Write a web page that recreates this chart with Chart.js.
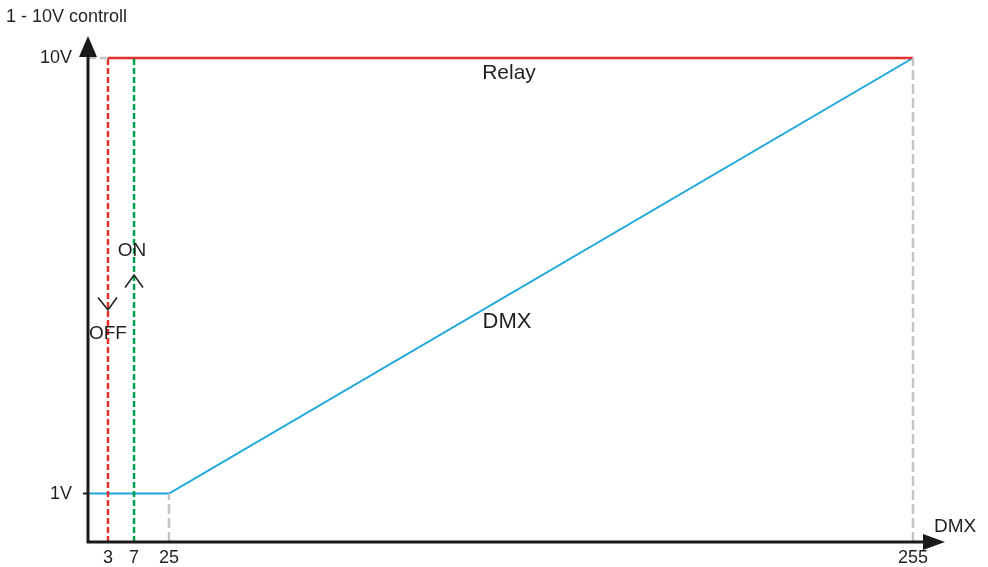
<!DOCTYPE html>
<html>
<head>
<meta charset="utf-8">
<script src="https://cdn.jsdelivr.net/npm/chart.js@4"></script>
<style>
  html, body { margin: 0; padding: 0; background: #ffffff; }
  #wrap { width: 988px; height: 567px; position: relative; }
</style>
</head>
<body>
<div id="wrap"><canvas id="c"></canvas></div>
<script>
// ---- data ----
const xTickValues = [3, 7, 25, 255];
const yTickValues = [1, 10];
const dmxX = [0, 25, 255];
const dmxY = [1, 1, 10];
const relayX = [3, 255];
const relayY = [10, 10];
const offX = 3;      // relay switches OFF below this DMX value
const onX = 7;       // relay switches ON above this DMX value
const minDimX = 25;  // DMX value where dimming starts
const maxX = 255;
const minV = 1;
const maxV = 10;

const TEXT = '#231f20';
const FONT = "'Liberation Sans', Arial, sans-serif";

// piecewise-linear axis (schematic spacing of the low DMX values)
const xBreakValues = [0, 3, 7, 25, 255];
const xBreakFractions = [0, 0.0242, 0.0558, 0.0982, 1];

class PiecewiseScale extends Chart.LinearScale {
  getPixelForValue(v) {
    if (v === null || v === undefined || isNaN(v)) return NaN;
    const bv = xBreakValues, bf = xBreakFractions;
    let f;
    if (v <= bv[0]) f = bf[0] + (v - bv[0]) * (bf[1] - bf[0]) / (bv[1] - bv[0]);
    else if (v >= bv[bv.length - 1]) {
      const n = bv.length - 1;
      f = bf[n] + (v - bv[n]) * (bf[n] - bf[n - 1]) / (bv[n] - bv[n - 1]);
    } else {
      for (let i = 0; i < bv.length - 1; i++) {
        if (v >= bv[i] && v <= bv[i + 1]) {
          f = bf[i] + (v - bv[i]) * (bf[i + 1] - bf[i]) / (bv[i + 1] - bv[i]);
          break;
        }
      }
    }
    return this.getPixelForDecimal(f);
  }
  getValueForPixel(p) {
    const f = this.getDecimalForPixel(p);
    const bv = xBreakValues, bf = xBreakFractions;
    for (let i = 0; i < bf.length - 1; i++) {
      if (f >= bf[i] && f <= bf[i + 1]) {
        return bv[i] + (f - bf[i]) * (bv[i + 1] - bv[i]) / (bf[i + 1] - bf[i]);
      }
    }
    return f < 0 ? bv[0] : bv[bv.length - 1];
  }
}
PiecewiseScale.id = 'piecewise';
PiecewiseScale.defaults = Chart.LinearScale.defaults;
Chart.register(PiecewiseScale);

const pts = (xs, ys) => xs.map((x, i) => ({ x: x, y: ys[i] }));

const datasets = [
  { label: 'ref10', data: pts([0, offX], [maxV, maxV]), borderColor: '#c4c4c4', borderWidth: 2.5, borderDash: [8, 4] },
  { label: 'OFF', data: pts([offX, offX], [0, maxV]), borderColor: '#e2302b', borderWidth: 2.5, borderDash: [6, 3] },
  { label: 'ON', data: pts([onX, onX], [0, maxV]), borderColor: '#00a04f', borderWidth: 2.5, borderDash: [6, 3] },
  { label: 'ref25', data: pts([minDimX, minDimX], [0, minV]), borderColor: '#c4c4c4', borderWidth: 2.5, borderDash: [10, 4] },
  { label: 'ref255', data: pts([maxX, maxX], [0, maxV]), borderColor: '#c4c4c4', borderWidth: 2.5, borderDash: [10, 4] },
  { label: 'Relay', data: pts(relayX, relayY), borderColor: '#e2302b', borderWidth: 2.5 },
  { label: 'DMX', data: pts(dmxX, dmxY), borderColor: '#1ba6dc', borderWidth: 2 }
].map(d => Object.assign(d, { clip: false }));

const decor = {
  id: 'decor',
  afterDatasetsDraw(chart) {
    const ctx = chart.ctx;
    const xs = chart.scales.x, ys = chart.scales.y;
    const x0 = xs.getPixelForValue(0), y0 = ys.getPixelForValue(0);
    const yTop = ys.getPixelForValue(maxV);
    ctx.save();
    // axes with arrows
    ctx.strokeStyle = '#1a1a1a';
    ctx.fillStyle = '#1a1a1a';
    ctx.lineWidth = 3;
    ctx.beginPath();
    ctx.moveTo(x0, y0);
    ctx.lineTo(x0, yTop - 16);
    ctx.moveTo(x0 - 1.5, y0);
    ctx.lineTo(xs.getPixelForValue(maxX) + 15, y0);
    ctx.stroke();
    // y arrow
    const ay = yTop - 22;
    ctx.beginPath();
    ctx.moveTo(x0, ay);
    ctx.lineTo(x0 - 9, ay + 21);
    ctx.lineTo(x0 + 9, ay + 21);
    ctx.closePath();
    ctx.fill();
    // x arrow
    const ax = xs.getPixelForValue(maxX) + 32;
    ctx.beginPath();
    ctx.moveTo(ax, y0);
    ctx.lineTo(ax - 22, y0 - 8);
    ctx.lineTo(ax - 22, y0 + 8);
    ctx.closePath();
    ctx.fill();

    // chevrons
    ctx.strokeStyle = '#222';
    ctx.lineWidth = 1.6;
    const xo = xs.getPixelForValue(offX), xn = xs.getPixelForValue(onX);
    ctx.beginPath();
    ctx.moveTo(xo - 10, 297.5);
    ctx.lineTo(xo, 310);
    ctx.lineTo(xo + 9, 297.5);
    ctx.moveTo(xn - 9, 287.5);
    ctx.lineTo(xn, 275);
    ctx.lineTo(xn + 9, 287.5);
    ctx.stroke();

    // texts
    ctx.fillStyle = TEXT;
    ctx.textBaseline = 'middle';
    ctx.textAlign = 'center';
    ctx.font = '19px ' + FONT;
    ctx.fillText('ON', xn - 2, 251);
    ctx.fillText('OFF', xo, 334);
    ctx.font = '21px ' + FONT;
    ctx.fillText('Relay', 509, 73);
    ctx.font = '22px ' + FONT;
    ctx.fillText('DMX', 507, 322);
    ctx.font = '18px ' + FONT;
    ctx.textAlign = 'left';
    ctx.fillText('1 - 10V controll', 6, 17);
    ctx.font = '19px ' + FONT;
    ctx.fillText('DMX', 934, 527);
    ctx.restore();
  }
};

new Chart(document.getElementById('c'), {
  type: 'line',
  data: { datasets: datasets },
  options: {
    responsive: true,
    maintainAspectRatio: false,
    animation: false,
    events: [],
    layout: { padding: { top: 58, right: 75, left: 0, bottom: 0 } },
    elements: { point: { radius: 0 }, line: { tension: 0 } },
    plugins: { legend: { display: false }, tooltip: { enabled: false } },
    scales: {
      x: {
        type: 'piecewise',
        min: 0,
        max: maxX,
        afterBuildTicks: s => { s.ticks = xTickValues.map(v => ({ value: v })); },
        afterFit: s => { s.height = 25; },
        grid: { display: false },
        border: { display: false },
        ticks: {
          autoSkip: false,
          maxRotation: 0,
          padding: -3,
          color: TEXT,
          font: { family: FONT, size: 18 },
          callback: v => String(v)
        }
      },
      y: {
        type: 'linear',
        min: 0,
        max: maxV,
        afterBuildTicks: s => { s.ticks = yTickValues.map(v => ({ value: v })); },
        afterFit: s => { s.width = 88; },
        grid: {
          display: true,
          drawOnChartArea: false,
          drawTicks: true,
          tickLength: 5,
          tickWidth: 2,
          tickColor: c => (c.tick && c.tick.value === minV) ? '#222' : 'rgba(0,0,0,0)'
        },
        border: { display: false },
        ticks: {
          padding: 11,
          color: TEXT,
          font: { family: FONT, size: 18 },
          callback: v => v + 'V'
        }
      }
    }
  },
  plugins: [decor]
});
</script>
</body>
</html>
